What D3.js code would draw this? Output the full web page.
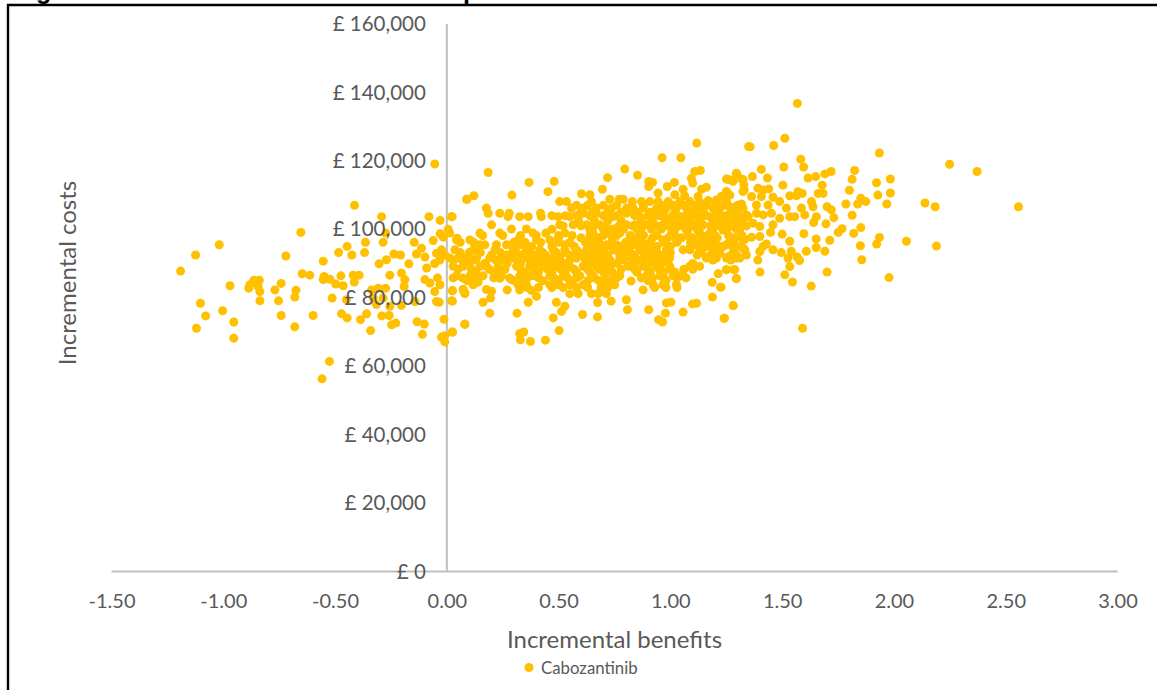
<!DOCTYPE html>
<html><head><meta charset="utf-8">
<script src="https://cdn.jsdelivr.net/npm/d3@7"></script>
<style>html,body{margin:0;background:#fff}svg{display:block}</style>
</head><body><svg id="c" width="1157" height="690"></svg>
<script>
const xTicks=[-1.5,-1,-0.5,0,0.5,1,1.5,2,2.5,3];
const yTicks=[0,20000,40000,60000,80000,100000,120000,140000,160000];
const seriesName="Cabozantinib";
const xTitle="Incremental benefits";
const yTitle="Incremental costs";
// [incremental benefit, incremental cost in £ thousands]
const leftPoints=[[-.054,119.1],[-.413,107],[.088,108.8],[-.292,103.7],[-.08,103.7],[.02,103.7],[-.03,102.6],[-.653,99.1],[-.273,98.9],[.006,100],[-.03,98.7],[-1.018,95.5],[-.364,96.2],[-.285,96.2],[-.146,96.2],[-.061,96.7],[-.016,97.7],[.046,97.4],[-1.124,92.5],[-.446,95],[-.484,93.2],[-.425,92.5],[-.368,93.2],[-.72,92.2],[-.553,90.7],[-.113,94.5],[-.136,92.8],[-.098,91.9],[-.237,92.8],[-.207,92.5],[-.27,91.1],[-.303,89.9],[-.17,89.9],[-.046,93],[-.024,94],[-.054,90],[-.031,91],[-.009,92.5],[-.09,88.7],[-1.191,87.8],[-.647,87],[-.613,86.6],[-.549,86.2],[-.553,85.3],[-.523,85.4],[-.497,84],[-.474,86.4],[-.464,83.5],[-.419,86.6],[-.392,86.6],[-.414,84.6],[-.255,86.6],[-.203,87.2],[-.188,85.3],[-.191,83.3],[-.098,85.3],[-.076,84.3],[-.042,85.8],[-.031,83.8],[-.054,81.8],[.025,82],[.073,82.3],[.081,81.2],[-.97,83.5],[-.881,83.8],[-.886,82.8],[-.863,85.1],[-.839,85.1],[-.844,83.3],[-.836,81.8],[-.836,79.1],[-.769,82.3],[-.741,84.2],[-.675,82.2],[-.68,80.2],[-.753,79.1],[-1.102,78.4],[-1.003,76.2],[-1.079,74.7],[-.953,72.9],[-1.12,71.1],[-.953,68.2],[-.741,74.8],[-.68,71.5],[-.598,74.8],[-.513,79.9],[-.449,79.4],[-.337,82.3],[-.307,82.8],[-.274,82.8],[-.329,79.9],[-.315,78],[-.285,79.9],[-.255,77.5],[-.203,77.8],[-.143,78.9],[-.046,78.9],[-.034,78.7],[.021,79.1],[-.471,75.3],[-.446,74.1],[-.359,75.3],[-.386,73.6],[-.291,74.7],[-.258,74.8],[-.247,72.1],[-.228,72.6],[-.341,70.4],[-.133,73],[-.101,72.3],[-.013,73.7],[.081,72.3],[.025,70],[-.009,68.9],[-.024,68.5],[-.009,67.1],[-.109,69.3],[-.525,61.4],[-.558,56.3]];
const middleEdgePoints=[[.185,116.6],[.368,113.7],[.48,114],[.452,111],[.291,110],[.091,108.8],[.121,109.8],[.602,110.4],[.64,110.1],[.696,111.7],[.719,115.1],[.796,117.6],[.853,115.8],[.963,120.9],[1.047,120.9],[1.118,125.2],[1.134,117.2],[1.109,116.9],[1.094,114.9],[1.1,113.5],[.903,114],[.92,113.7],[.903,112.5],[.945,110.6],[.986,112.5],[1.018,113.7],[1.057,111.7],[1.02,110.1],[1.064,109.8],[1.124,109.6],[1.161,112.3],[1.139,111.7],[1.255,114.6],[1.295,116.4],[1.28,114],[1.325,114.5],[1.325,111.05],[1.35,124.2],[1.25,111],[1.228,109.6],[1.206,108.6],[1.169,108.4],[1.318,107.4],[.08,72.2],[.025,70],[.326,69.5],[.344,70],[.329,67.7],[.374,67.2],[.441,67.6],[.502,70.4],[.476,74.1],[.192,75.5],[.314,75.5],[.513,76],[.528,77.5],[.49,78.7],[.364,78.7],[.162,78.7],[.607,75.1],[.674,74.4],[.808,76.5],[.803,79.4],[.735,79],[.674,78.6],[.903,76.5],[.982,78.5],[1.002,78.7],[.978,75.5],[.947,73.6],[.965,72.9],[1.057,75.8],[1.099,78.2],[1.117,78.4],[1.188,80.2],[1.224,83.1],[1.187,84.5],[1.281,77.7],[1.24,74],[1.295,85.6],[1.288,88.2],[1.251,88.2],[1.214,87],[.878,82.3],[.824,84.9],[.27,82.3],[.025,79],[.025,82.1],[.08,81.4],[.073,82.4],[.177,82.4],[.2,81.9],[.195,79.9],[.401,80.4],[.379,82.1],[.326,82.3],[.289,85.3],[.237,85.7],[.237,87.2],[.118,84.3],[.14,84.6],[.028,85.8]];
const rightPoints=[[1.568,136.8],[1.357,124.1],[1.462,124.5],[1.512,126.6],[1.935,122.3],[2.249,119],[2.372,116.9],[2.557,106.6],[2.139,107.7],[2.184,106.6],[1.583,120.5],[1.596,118.2],[1.407,117.5],[1.507,118.2],[1.297,116.2],[1.251,114.7],[1.273,114.4],[1.318,114.7],[1.367,115.4],[1.434,115],[1.616,115],[1.65,115.4],[1.691,116.2],[1.719,116.9],[1.824,117.2],[1.813,114.6],[1.801,111.4],[1.679,112.9],[1.503,112.9],[1.329,113],[1.33,111.5],[1.922,113.6],[1.984,114.7],[1.984,110.6],[1.928,110],[1.968,107.4],[1.785,107.4],[1.838,107.4],[1.852,109.1],[1.874,108.1],[1.701,106.6],[1.72,105.7],[1.731,103.4],[1.813,104.1],[1.696,101.6],[1.641,102],[1.852,100.5],[1.768,100.2],[1.751,99.1],[1.82,98.8],[1.597,98.7],[1.5,98.6],[1.448,99.1],[1.652,97.2],[1.713,96.8],[1.534,96.5],[1.935,97.6],[1.923,95.7],[2.056,96.5],[2.19,95.1],[1.85,95.2],[1.652,94.7],[1.608,93.6],[1.691,93.6],[1.856,91.1],[1.541,93.6],[1.496,93.2],[1.526,91.6],[1.578,90.9],[1.567,91.9],[1.534,89.1],[1.701,87.5],[1.512,86.7],[1.401,87.5],[1.546,84.6],[1.63,83.4],[1.978,85.9],[1.391,91],[1.296,85.6],[1.227,83.1],[1.281,77.7],[1.242,74],[1.591,71.1],[1.283,88.2],[1.25,88.2],[1.415,111.5],[1.392,112],[1.44,111.8],[1.571,111],[1.59,110.5],[1.661,110.5],[1.683,110.5],[1.251,111],[1.266,110],[1.363,109.6],[1.407,109.6],[1.459,109.4],[1.489,108.1],[1.534,109.8],[1.564,109.8],[1.631,108.1],[1.266,106.6],[1.318,107.1],[1.385,107.1],[1.437,107.1],[1.519,106.2],[1.586,106.2],[1.638,106.6],[1.221,104.2],[1.295,104.7],[1.34,104.2],[1.385,104.7],[1.415,104.2],[1.452,104.7],[1.489,103.2],[1.534,103.7],[1.556,103.7],[1.601,104.2],[1.653,103.7],[1.236,101.8],[1.266,101.8],[1.295,101.8],[1.325,101.8],[1.37,101.8],[1.4,100.8],[1.459,101.3],[1.236,99.8],[1.266,100.8],[1.333,97.1],[1.363,97.7],[1.4,97.9],[1.266,96.4],[1.236,95],[1.325,94.5],[1.429,95.7],[1.415,95],[1.4,93.5],[1.34,92.5],[1.459,94],[1.221,93],[1.258,92],[1.295,92.5],[1.31,91.6]];
const denseRows=[
 [108.1,[.505,.535,.647,.83,.871,.908,.945,.99,1.042,1.087,1.131,1.206,1.251]],
 [108.8,[.771,.789,.729]],
 [106.2,[.558,.61,.669,.736,.804,.833,.878,.938,.982,1.027,1.072,1.117,1.146,1.191,1.222,1.281,1.325,.177]],
 [104.7,[.279,.419,.61,.669,.804,.93,.185,.237]],
 [103.7,[.024,.274,.326,.364,.423,.498,.55,.744,.863,.967,1.005,1.049,1.087,1.131,1.176,1.221,1.266,1.31,1.348]],
 [101.3,[.2,.505,.625,.684,.804,.841,.893,.967,1.012,1.057,1.102,1.146,1.206,1.266,1.325,.565]],
 [100.1,[.289,.356,.744,.915,.96,1.079,1.236,1.295]],
 [98.9,[.013,.148,.237,.386,.443,.528,.654,.714,.774,.871,1.005,1.131,1.176]],
 [96.9,[.043,.103,.319,.461,.654,.967,1.027,1.169,1.325,.818,.401]],
 [95.5,[.148,.222,.267,.326,.528,.714,.759,.833,.893,1.117,1.251,.17,1.266]],
 [94,[.036,.118,.215,.297,.356,.416,.476,.528,.58,.625,.684,.744,.804,.863,.923,.982,1.057,1.087,1.131,1.191,1.333]],
 [91.6,[.013,.051,.088,.133,.192,.244,.297,.341,.401,.461,.505,.58,.64,.699,.774,.826,.878,.945,.997,1.161,1.206,1.251,1.295]],
 [89.2,[.028,.073,.148,.177,.23,.312,.371,.431,.49,.55,.61,.669,.729,.811,.878,.938,.997,1.087,1.131]],
 [86.4,[.043,.103,.162,.237,.244,.326,.379,.461,.52,.595,.654,.759,.774,.893,.953,1.012,1.057,1.042]],
 [83.8,[.118,.319,.356,.461,.498,.55,.61,.699,.751,.923,.967,1.027]],
 [81.2,[.55,.587,.647,.677,.714]],
 [105,[.6,.65,.72,.78,.85,.91,.97,1.02,1.09,1.15,1.21,1.27]],
 [102.5,[.59,.66,.72,.78,.87,.92,.99,1.04,1.08,1.13,1.19,1.24,1.3]],
 [100,[.47,.64,.7,.79,.85,1.02,1.07,1.12,1.19,1.25,1.31]],
 [97.5,[.5,.6,.68,.74,.85,.92,.99,1.05,1.1,1.15,1.21,1.29]],
 [95,[.38,.47,.57,.65,.71,.78,.86,.94,1,1.09,1.16,1.22,1.3]],
 [92.5,[.2,.27,.33,.39,.44,.55,.61,.67,.72,.79,.84,.91,.97,1.12,1.18]],
 [90,[.1,.17,.27,.33,.4,.46,.52,.64,.7,.76,.84,.9,.96,1.1]],
 [87.5,[.13,.21,.35,.41,.47,.53,.58,.64,.7,.74,.85,.91,.97,1.02]],
 [85,[.09,.3,.34,.43,.5,.56,.63,.68,.73,.9,.98]],
 [107,[.58,.63,.7,.76,.88,.96,1.01,1.06,1.11,1.16,1.24,1.3]],
 [104,[.47,.53,.58,.64,.7,.76,.84,.9,.95,1.03,1.07,1.11,1.15,1.2,1.25,1.29]],
 [101,[.52,.6,.66,.71,.77,.83,.88,.94,.99,1.04,1.09,1.14,1.18,1.22,1.28,1.34]],
 [98.2,[.16,.25,.33,.4,.5,.56,.64,.7,.76,.82,.88,.94,1.02,1.08,1.14,1.2,1.26,1.32]],
 [96.2,[.06,.12,.3,.35,.42,.5,.55,.62,.68,.74,.8,.87,.91,.97,1.03,1.09,1.13,1.19,1.28]],
 [93.2,[.06,.1,.15,.24,.31,.37,.43,.49,.53,.59,.65,.7,.77,.82,.89,.94,1,1.14,1.2,1.28]],
 [91,[.03,.07,.12,.22,.26,.32,.37,.43,.49,.55,.62,.67,.73,.79,.85,.92,.98,1.19,1.27]],
 [88.3,[.05,.11,.19,.26,.33,.39,.45,.51,.57,.63,.68,.72,.78,.84,.9,.95,1,1.06,1.1]],
 [85.8,[.07,.14,.21,.28,.36,.41,.48,.54,.58,.66,.71,.76,.87,.92,.97,1.03,1.07]],
 [83,[.36,.41,.47,.52,.58,.63,.69,.72,.93,.98,1.03]]
];
const points=[...leftPoints,...middleEdgePoints,...rightPoints];
denseRows.forEach(([cost,xs])=>xs.forEach(b=>points.push([b,cost])));

const svg=d3.select("#c");
const font='Lato, "Open Sans", sans-serif', gray="#595959", axisGray="#bfbfbf", gold="#FFC000";
const x=d3.scaleLinear().domain([-1.5,3]).range([111.5,1117.5]);
const y=d3.scaleLinear().domain([0,160000]).range([571.5,24]);

// clipped title fragments above the frame
svg.append("text").attr("x",36).attr("y",-1).text("g").attr("font-family","Liberation Sans").attr("font-weight",700).attr("font-size",25).attr("fill","#000");
svg.append("text").attr("x",463).attr("y",-1).text("p").attr("font-family","Liberation Sans").attr("font-weight",700).attr("font-size",25).attr("fill","#000");
// frame
svg.append("path").attr("d","M8,690V5H1157").attr("fill","none").attr("stroke","#000").attr("stroke-width",2.4);

// axis lines under marks
svg.append("line").attr("x1",x(-1.5)).attr("x2",x(3)).attr("y1",y(0)).attr("y2",y(0)).attr("stroke",axisGray).attr("stroke-width",2);
svg.append("line").attr("x1",x(0)).attr("x2",x(0)).attr("y1",y(0)).attr("y2",y(160000)).attr("stroke",axisGray).attr("stroke-width",2);

svg.append("g").selectAll("circle").data(points).join("circle")
 .attr("cx",d=>x(d[0])).attr("cy",d=>y(d[1]*1000)).attr("r",4.5).attr("fill",gold);

// axis labels above marks
const gx=svg.append("g").attr("transform",`translate(0,${y(0)})`)
 .call(d3.axisBottom(x).tickValues(xTicks).tickSize(0).tickPadding(22).tickFormat(d=>d3.format(".2f")(d).replace("\u2212","-")));
const gy=svg.append("g").attr("transform",`translate(${x(0)},0)`)
 .call(d3.axisLeft(y).tickValues(yTicks).tickSize(0).tickPadding(21).tickFormat(d=>"£ "+d3.format(",")(d)));
[gx,gy].forEach(g=>{g.select(".domain").remove();g.selectAll("text").attr("font-family",font).attr("font-size",20).attr("fill",gray);});
gy.selectAll("text").attr("font-size",20.5);

svg.append("text").attr("x",614.5).attr("y",648).attr("text-anchor","middle").text(xTitle).attr("font-family",font).attr("font-size",24).attr("fill",gray);
svg.append("text").attr("transform","translate(76,273) rotate(-90)").attr("text-anchor","middle").text(yTitle).attr("font-family",font).attr("font-size",24).attr("fill",gray);
svg.append("circle").attr("cx",529).attr("cy",667.5).attr("r",4.5).attr("fill",gold);
svg.append("text").attr("x",541).attr("y",674).text(seriesName).attr("font-family",font).attr("font-size",16.8).attr("fill",gray);
</script></body></html>
